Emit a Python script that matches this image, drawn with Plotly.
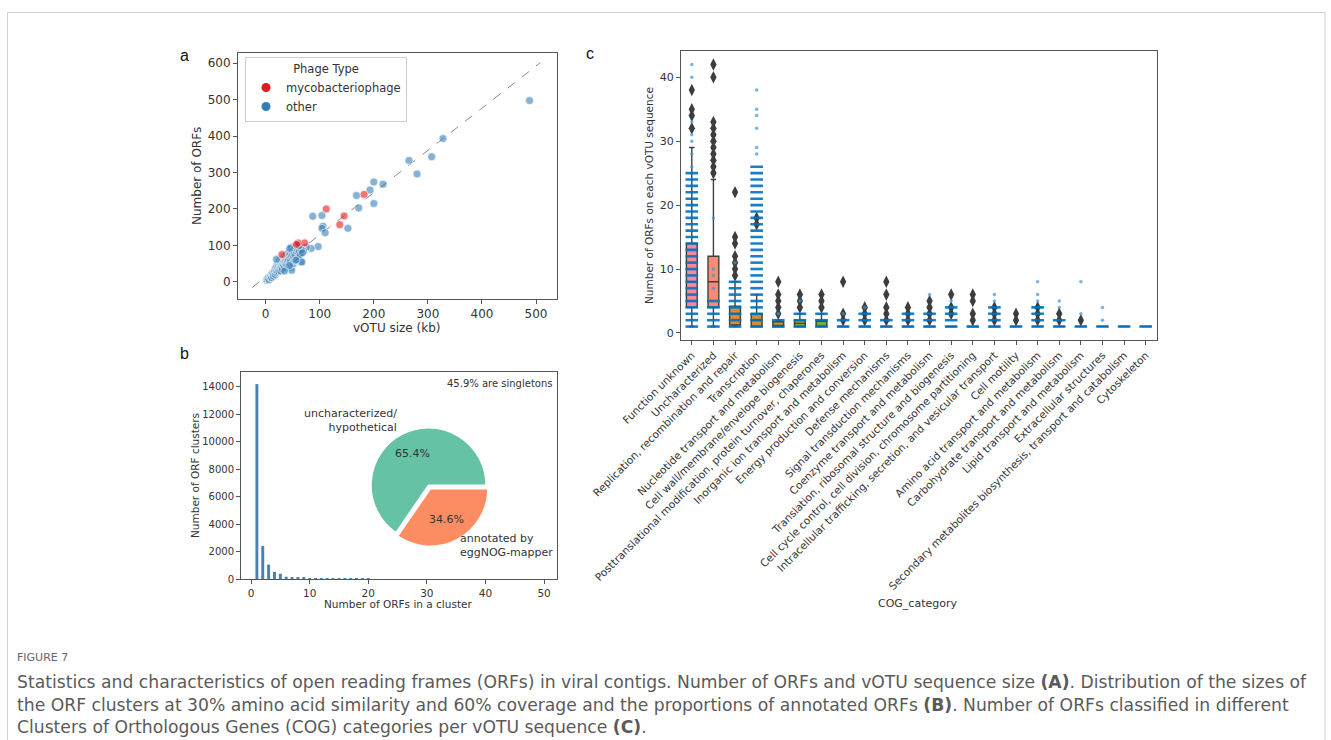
import plotly.graph_objects as go

W, H = 1331, 740


def fx(x):
    return x / W


def fy(y):
    return 1 - y / H


# ---------------- panel a: ORFs vs vOTU size ----------------
MYCO_KB = [182, 112, 145, 137, 72, 60, 30, 57]
MYCO_ORF = [240, 200, 181, 157, 107, 107, 75, 103]

OTHER_KB = [488, 328, 307, 265, 280, 200, 217, 193, 168, 200, 172, 87, 104, 106, 104,
            110, 152, 97, 84, 75, 70, 65,
            2, 3, 5, 6, 8, 9, 10, 11, 12, 13, 14, 15, 16, 17, 18, 18, 19, 20, 20, 21,
            22, 22, 23, 24, 24, 25, 25, 26, 27, 27, 28, 28, 29, 30, 30, 31, 32, 32,
            33, 34, 34, 35, 36, 36, 37, 38, 38, 39, 40, 40, 41, 42, 42, 43, 44, 44,
            45, 46, 46, 47, 47, 48, 48, 49, 50, 50, 51, 52, 52, 53, 54, 55, 55, 56,
            57, 58, 58, 60, 60, 61, 62, 63, 64, 66, 68, 62, 45, 67, 20, 35, 44, 56]
OTHER_ORF = [497, 393, 343, 333, 296, 274, 268, 252, 237, 215, 203, 180, 182, 153, 147,
             135, 147, 97, 92, 95, 85, 55,
             5, 8, 10, 6, 12, 15, 18, 12, 20, 25, 16, 22, 30, 28, 20, 35, 40, 25, 32, 45,
             38, 28, 50, 42, 30, 55, 35, 60, 48, 38, 52, 30, 44, 58, 40, 35, 62, 50,
             45, 55, 70, 40, 65, 52, 58, 48, 75, 62, 68, 55, 45, 80, 60, 72, 52, 88,
             65, 78, 58, 95, 40, 70, 32, 85, 62, 75, 50, 90, 68, 80, 58, 72, 95, 85,
             100, 62, 90, 78, 95, 68, 85, 98, 75, 88, 80, 100, 92, 55, 62, 30, 45, 60]

FIT_KB = [-25, 508]
FIT_ORF = [-15, 601]

# ---------------- panel b: ORF cluster sizes ----------------
CLUSTER_SIZE = [1, 2, 3, 4, 5, 6, 7, 8, 9, 10, 11, 12, 13, 14, 15, 16, 17, 18, 19, 20]
CLUSTER_COUNT = [14200, 2400, 1050, 520, 380, 165, 150, 95, 80, 70, 60, 30, 25, 20,
                 15, 12, 10, 8, 6, 5]

PIE_NAMES = ["uncharacterized/hypothetical", "annotated by eggNOG-mapper"]
PIE_PCT = [65.4, 34.6]
PIE_COLORS = ["#66c2a5", "#fc8d62"]

# ---------------- panel c: COG categories ----------------
COG = [
    "Function unknown", "Uncharacterized", "Replication, recombination and repair",
    "Transcription", "Nucleotide transport and metabolism",
    "Cell wall/membrane/envelope biogenesis",
    "Posttranslational modification, protein turnover, chaperones",
    "Inorganic ion transport and metabolism", "Energy production and conversion",
    "Defense mechanisms", "Signal transduction mechanisms",
    "Coenzyme transport and metabolism",
    "Translation, ribosomal structure and biogenesis",
    "Cell cycle control, cell division, chromosome partitioning",
    "Intracellular trafficking, secretion, and vesicular transport", "Cell motility",
    "Amino acid transport and metabolism", "Carbohydrate transport and metabolism",
    "Lipid transport and metabolism", "Extracellular structures",
    "Secondary metabolites biosynthesis, transport and catabolism", "Cytoskeleton",
]
Q1 = [4, 4, 1.25, 1, 1, 1, 1] + [1] * 15
MEDIAN = [8, 8, 3, 2, 1, 1.5, 2] + [1] * 15
Q3 = [14, 12, 4.2, 3, 1.75, 2, 2] + [1] * 15
LOW = [1, 1, 1, 1, 1, 1, 1] + [1] * 15
HIGH = [29, 24, 8, 6, 2, 3, 3] + [1] * 15
OUTLIERS = [
    [32, 34, 35, 38], [25, 26, 27, 28, 29, 30, 31, 32, 33, 40, 42],
    [9, 10, 11, 12, 14, 15, 22], [17, 18], [3, 4, 5, 6, 8], [4, 5, 6], [4, 5, 6],
    [2, 3, 8], [2, 3, 4], [2, 3, 4, 6, 8], [2, 3, 4], [2, 3, 4, 5], [3, 4, 6],
    [2, 3, 5, 6], [2, 3, 4], [2, 3], [2, 3, 4], [2, 3], [2], [], [], [],
]
DENSE = [
    list(range(1, 26)), [1, 2, 3, 4, 5], [1, 2, 3, 4, 5, 6, 7, 8],
    list(range(1, 27)), [1, 2], [1, 2, 3], [1, 2, 3], [1, 2], [1, 2, 3], [1, 2],
    [1, 2, 3], [1, 2, 3], [1, 2, 3, 4], [1], [1, 2, 3, 4], [1], [1, 2, 3, 4],
    [1, 2], [1], [1], [1], [1],
]
SPARSE = [
    [26, 28, 30, 31, 33, 40, 42], [7, 9, 10, 18], [11], [28, 29, 32, 34, 35, 38],
    [3], [5], [], [3], [4], [], [], [6], [5], [], [5, 6], [], [5, 6, 8], [4, 5],
    [3, 8], [2, 4], [], [],
]
BOX_COLORS = ["#f7889b", "#f98a75", "#e08b33", "#d08f30", "#b49a31", "#97a431",
              "#6fad32", "#4fb032", "#33b07a", "#34ad8f", "#35ab9e", "#36a9aa",
              "#38a7b6", "#39a4c4", "#3ba0d3", "#5c9cf0", "#8c96f4", "#ac8cf4",
              "#c97ff4", "#e470ee", "#f46bd5", "#f66db1"]

TEXT = "#333333"
FRAME = "#555555"
FONT = "DejaVu Sans"

fig = go.Figure()

# panel a
fig.add_trace(go.Scatter(
    x=FIT_KB, y=FIT_ORF, mode="lines", xaxis="x", yaxis="y", showlegend=False,
    line=dict(color="#8a8a8a", width=1, dash="dash"), hoverinfo="skip"))
fig.add_trace(go.Scatter(
    x=OTHER_KB, y=OTHER_ORF, mode="markers", xaxis="x", yaxis="y", showlegend=False,
    marker=dict(size=8, color="rgba(55,126,184,0.6)",
                line=dict(color="white", width=0.6))))
fig.add_trace(go.Scatter(
    x=MYCO_KB, y=MYCO_ORF, mode="markers", xaxis="x", yaxis="y", showlegend=False,
    marker=dict(size=8, color="rgba(228,26,28,0.6)",
                line=dict(color="white", width=0.6))))
# legend swatches (solid colours)
fig.add_trace(go.Scatter(
    x=[None], y=[None], mode="markers", xaxis="x", yaxis="y",
    name="mycobacteriophage", marker=dict(size=9, color="#e41a1c")))
fig.add_trace(go.Scatter(
    x=[None], y=[None], mode="markers", xaxis="x", yaxis="y",
    name="other", marker=dict(size=9, color="#377eb8")))

# panel b
fig.add_trace(go.Bar(
    x=CLUSTER_SIZE, y=CLUSTER_COUNT, xaxis="x2", yaxis="y2", width=0.5,
    marker=dict(color="#4a80b2", line=dict(width=0)), showlegend=False))

# pie: first wedge runs counter-clockwise from 3 o'clock, second wedge pulled out
PIE_PULL = 0.07
pie_r = 57.5
pie_cx, pie_cy = 428.5, 485.2
half = pie_r * (1 + PIE_PULL)
start_compass = (90 - 360 * PIE_PCT[0] / sum(PIE_PCT)) % 360
fig.add_trace(go.Pie(
    labels=PIE_NAMES, values=PIE_PCT, sort=False, direction="clockwise",
    rotation=start_compass, pull=[0, PIE_PULL], textinfo="none", showlegend=False,
    marker=dict(colors=PIE_COLORS, line=dict(color="white", width=1.5)),
    domain=dict(x=[fx(pie_cx - half), fx(pie_cx + half)],
                y=[fy(pie_cy + half), fy(pie_cy - half)])))

# panel c
for i, cat in enumerate(COG):
    fig.add_trace(go.Box(
        x=[i], q1=[Q1[i]], median=[MEDIAN[i]], q3=[Q3[i]],
        lowerfence=[LOW[i]], upperfence=[HIGH[i]], width=0.5, whiskerwidth=0.5,
        fillcolor=BOX_COLORS[i], line=dict(color="#3f3f3f", width=1.4),
        boxpoints=False, xaxis="x3", yaxis="y3", showlegend=False, name=cat))

out_x = [i for i, vals in enumerate(OUTLIERS) for _ in vals]
out_y = [v for vals in OUTLIERS for v in vals]
fig.add_trace(go.Scatter(
    x=out_x, y=out_y, mode="markers", xaxis="x3", yaxis="y3", showlegend=False,
    marker=dict(symbol="diamond-tall", size=9, color="#3d3d3d")))

dense_x = [i for i, vals in enumerate(DENSE) for _ in vals]
dense_y = [v for vals in DENSE for v in vals]
fig.add_trace(go.Scatter(
    x=dense_x, y=dense_y, mode="markers", xaxis="x3", yaxis="y3", showlegend=False,
    marker=dict(symbol="line-ew", size=9,
                line=dict(color="rgba(0,114,189,0.9)", width=2.6))))

sparse_x = [i for i, vals in enumerate(SPARSE) for _ in vals]
sparse_y = [v for vals in SPARSE for v in vals]
fig.add_trace(go.Scatter(
    x=sparse_x, y=sparse_y, mode="markers", xaxis="x3", yaxis="y3", showlegend=False,
    marker=dict(size=3.5, color="rgba(60,150,215,0.7)")))


def axis(domain, rng, tickvals, ticktext=None, size=12, angle=0, anchor=None):
    d = dict(domain=domain, range=rng, tickvals=tickvals, showgrid=False,
             zeroline=False, showline=True, mirror=True, linecolor=FRAME,
             linewidth=1, ticks="outside", ticklen=4, tickcolor=FRAME,
             tickfont=dict(family=FONT, size=size, color=TEXT), automargin=False,
             tickangle=angle, anchor=anchor, tickformat="d")
    if ticktext is not None:
        d["ticktext"] = ticktext
    return d


annotations = []


def note(text, x, y, size=12, xanchor="center", yanchor="middle", angle=0,
         color=TEXT, family=FONT, align="center"):
    annotations.append(dict(text=text, x=fx(x), y=fy(y), xref="paper", yref="paper",
                            showarrow=False, xanchor=xanchor, yanchor=yanchor,
                            textangle=angle, align=align,
                            font=dict(size=size, color=color, family=family)))


# panel letters
note("a", 184, 55, size=16, family="Liberation Sans", color="#111")
note("b", 184, 353, size=16, family="Liberation Sans", color="#111")
note("c", 590, 53, size=16, family="Liberation Sans", color="#111")

# axis titles
note("vOTU size (kb)", 397, 328, size=12)
note("Number of ORFs", 197, 176, size=12, angle=-90)
note("Number of ORFs in a cluster", 398, 604, size=10.5)
note("Number of ORF clusters", 195, 476, size=10.5, angle=-90)
note("Number of ORFs on each vOTU sequence", 649, 196, size=10.5, angle=-90)
note("COG_category", 918, 603, size=11)

# panel b texts
note("45.9% are singletons", 555, 383, size=10, xanchor="right")
note("uncharacterized/<br>hypothetical", 399, 420, size=11, xanchor="right",
     align="right")
note("annotated by<br>eggNOG-mapper", 458, 545, size=11, xanchor="left",
     align="left")
note("65.4%", 412, 454, size=11)
note("34.6%", 446, 519, size=11)

# caption
CAP = "DejaVu Sans"
CAP_COLOR = "#5a5a5a"
note("FIGURE 7", 15, 657, size=11, xanchor="left", color="#666", family=CAP)
note("Statistics and characteristics of open reading frames (ORFs) in viral contigs. "
     "Number of ORFs and vOTU sequence size <b>(A)</b>. Distribution of the sizes of",
     15, 682, size=17.2, xanchor="left", color=CAP_COLOR, family=CAP)
note("the ORF clusters at 30% amino acid similarity and 60% coverage and the "
     "proportions of annotated ORFs <b>(B)</b>. Number of ORFs classified in different",
     15, 705, size=17.2, xanchor="left", color=CAP_COLOR, family=CAP)
note("Clusters of Orthologous Genes (COG) categories per vOTU sequence <b>(C)</b>.",
     15, 727, size=17.2, xanchor="left", color=CAP_COLOR, family=CAP)

fig.update_layout(
    width=W, height=H, autosize=False, template="none",
    margin=dict(l=0, r=0, t=0, b=0, pad=0),
    paper_bgcolor="white", plot_bgcolor="white",
    font=dict(family=FONT, color=TEXT),
    xaxis=axis([fx(238), fx(557)], [-51.2, 538.8], [0, 100, 200, 300, 400, 500],
               size=12, anchor="y"),
    yaxis=axis([fy(299), fy(53)], [-46.6, 627.4], [0, 100, 200, 300, 400, 500, 600],
               size=12, anchor="x"),
    xaxis2=axis([fx(241), fx(557)], [-1.71, 52.2], [0, 10, 20, 30, 40, 50],
                size=10.5, anchor="y2"),
    yaxis2=axis([fy(579), fy(372)], [0, 15080],
                [0, 2000, 4000, 6000, 8000, 10000, 12000, 14000], size=10,
                anchor="x2"),
    xaxis3=axis([fx(681), fx(1156.5)], [-0.5, 21.5], list(range(len(COG))),
                ticktext=COG, size=10.6, angle=-45, anchor="y3"),
    yaxis3=axis([fy(340), fy(51)], [-1.1, 44.1], [0, 10, 20, 30, 40], size=11,
                anchor="x3"),
    boxmode="overlay",
    legend=dict(x=fx(245), y=fy(57), xanchor="left", yanchor="top",
                bgcolor="white", bordercolor="#cccccc", borderwidth=1,
                font=dict(family=FONT, size=11.5, color=TEXT),
                title=dict(text="Phage Type", side="top center",
                           font=dict(family=FONT, size=11.5, color=TEXT)),
                itemwidth=30, tracegroupgap=0),
    shapes=[dict(type="rect", xref="paper", yref="paper", x0=fx(7.5), x1=fx(1325),
                 y0=fy(760), y1=fy(12.5), line=dict(color="#cfcfcf", width=1),
                 fillcolor="rgba(0,0,0,0)", layer="below")],
    annotations=annotations,
)

fig.write_html("out.html")
